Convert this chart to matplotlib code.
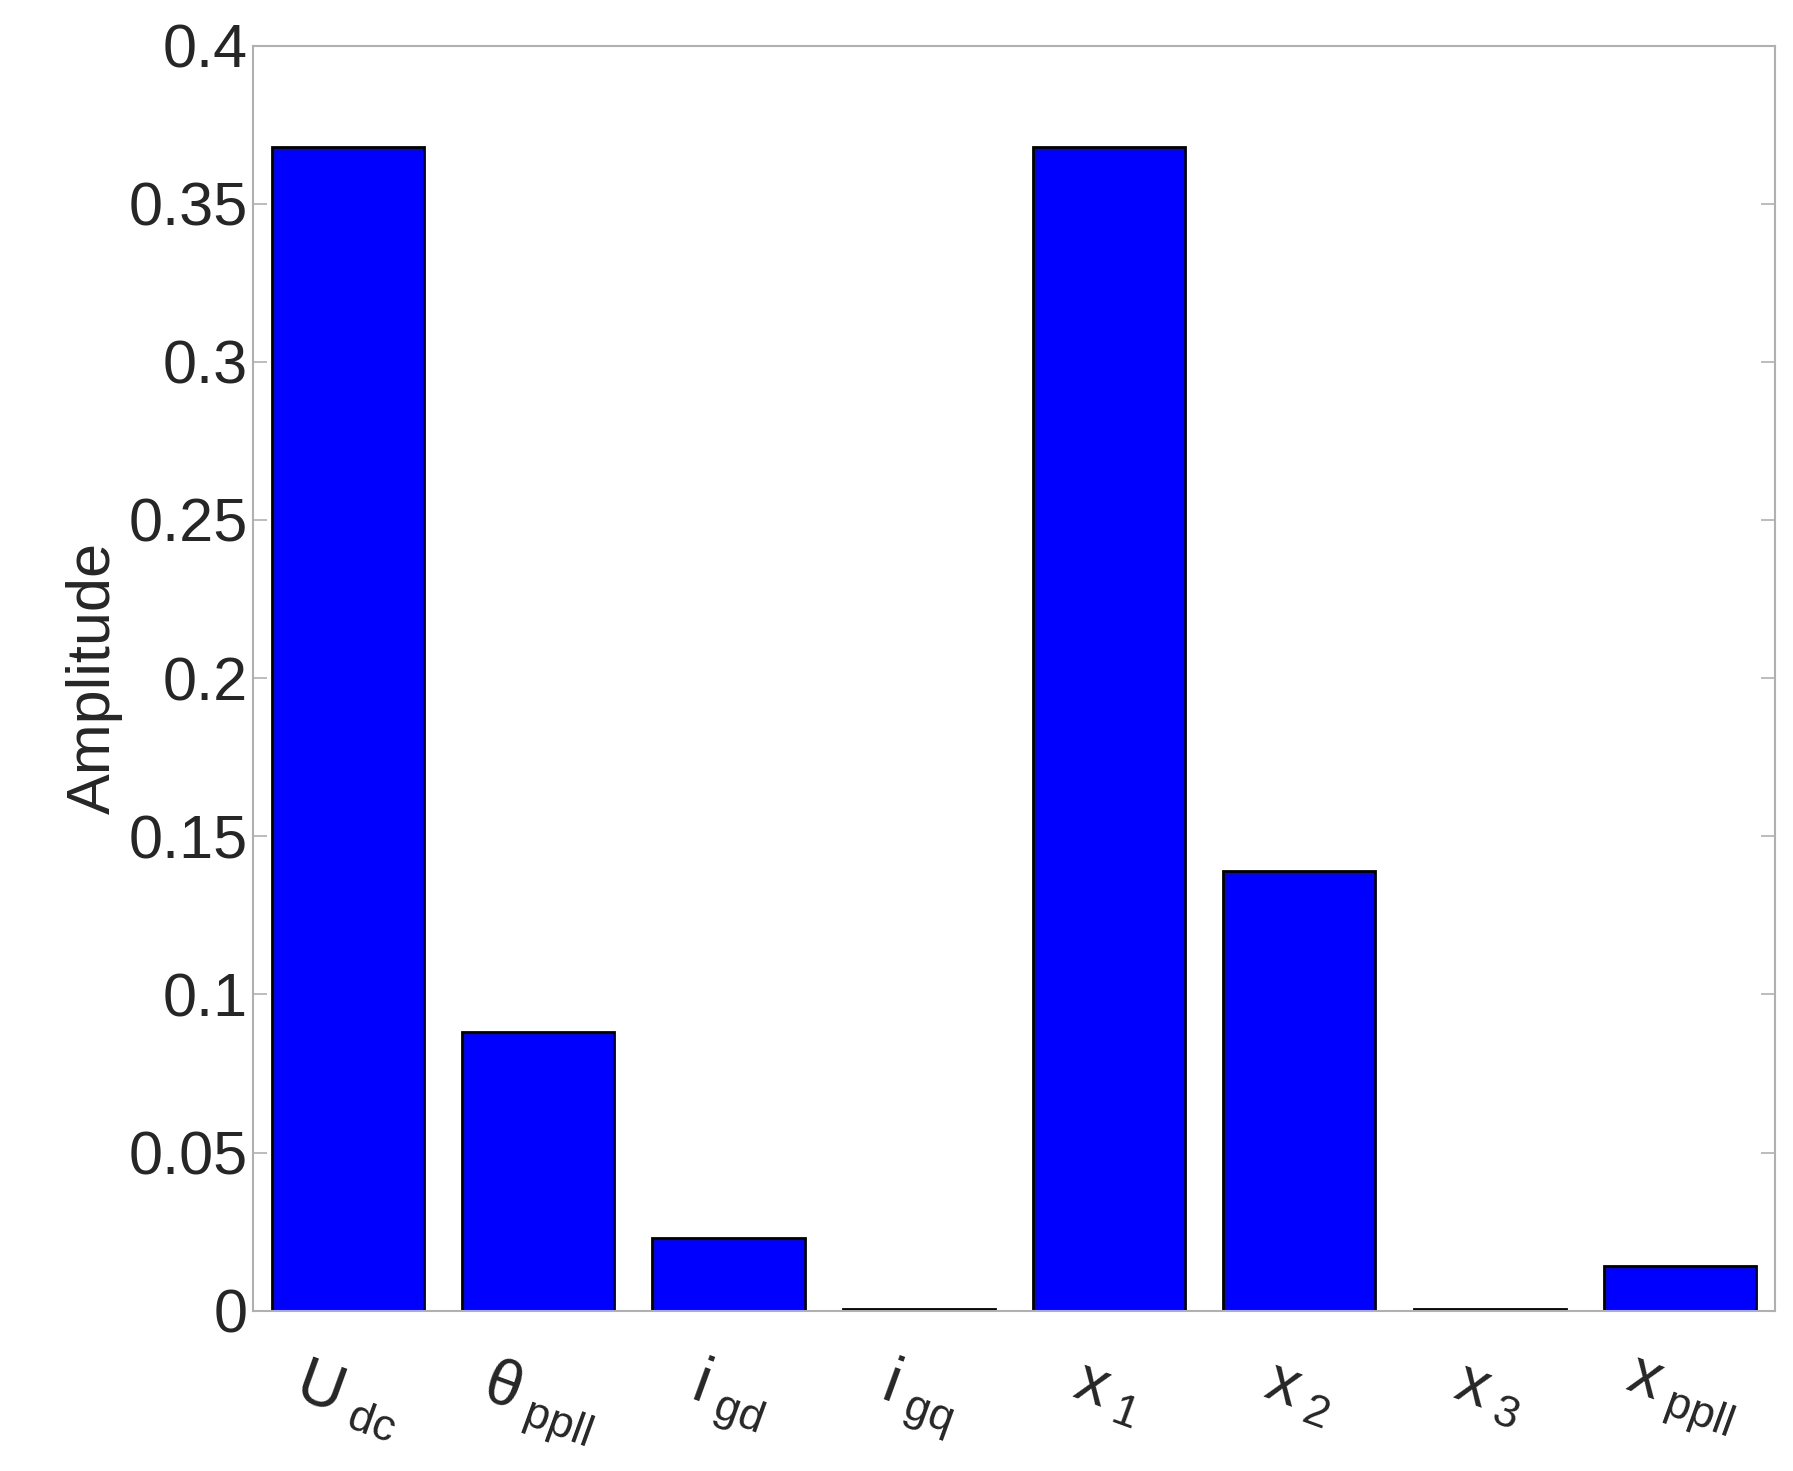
import numpy as np
import matplotlib
matplotlib.use("Agg")
import matplotlib.pyplot as plt

plt.rcParams.update({
    "font.family": "Liberation Sans", "font.size": 44,
    "mathtext.fontset": "custom", "mathtext.rm": "Liberation Sans",
    "mathtext.it": "Liberation Sans", "axes.edgecolor": "#b0b0b0",
    "xtick.color": "#262626", "ytick.color": "#262626",
})

labels = [r"$\mathrm{U}_{\ \mathrm{dc}}$", r"$\theta_{\ \mathrm{ppll}}$", r"$\mathrm{i}_{\ \mathrm{gd}}$",
          r"$\mathrm{i}_{\ \mathrm{gq}}$", r"$\mathrm{x}_{\ 1}$", r"$\mathrm{x}_{\ 2}$",
          r"$\mathrm{x}_{\ 3}$", r"$\mathrm{x}_{\ \mathrm{ppll}}$"]
amplitude = [0.368, 0.088, 0.023, 0.0005, 0.368, 0.139, 0.0005, 0.014]

fig = plt.figure(figsize=(17.93, 14.71), dpi=100)
ax = fig.add_axes([0.141, 0.109, 0.849, 0.86])
x = np.arange(len(amplitude))
ax.bar(x, amplitude, width=0.8, color="#0000ff", edgecolor="black", linewidth=2)
ax.set_xlim(-0.5, 7.5)
ax.set_ylim(0, 0.4)
ax.set_yticks(np.arange(0, 0.41, 0.05))
ax.set_yticklabels(["0", "0.05", "0.1", "0.15", "0.2", "0.25", "0.3", "0.35", "0.4"])
ax.set_xticks(x)
ax.set_xticklabels(labels, rotation=-20, ha="center", fontsize=46)
ax.tick_params(axis="both", direction="in", length=10, width=1.2, colors="#b0b0b0",
               labelcolor="#262626", right=True, top=False)
ax.tick_params(axis="x", length=0, pad=30)
ax.set_ylabel("Amplitude", color="#262626")
for s in ax.spines.values():
    s.set_linewidth(1.5)
fig.savefig("out.png", dpi=100)
